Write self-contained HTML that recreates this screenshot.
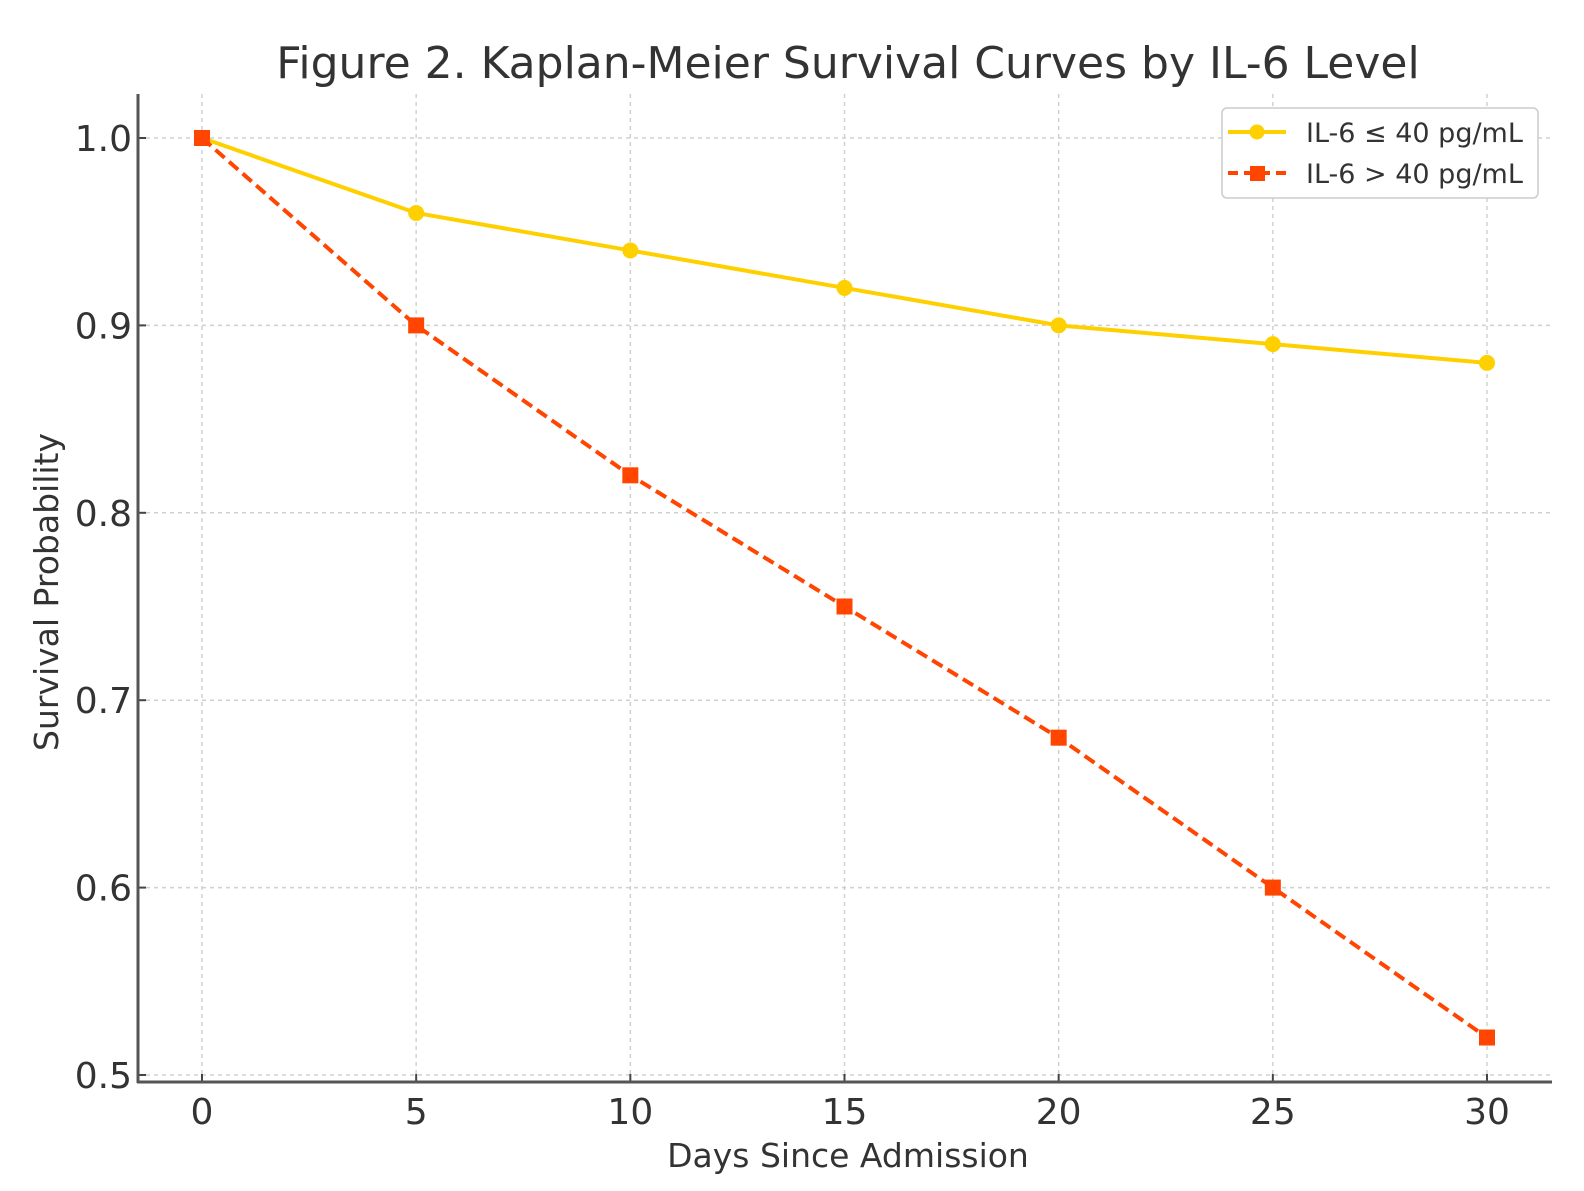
<!DOCTYPE html>
<html><head><meta charset="utf-8"><style>
html,body{margin:0;padding:0;background:#fff;}
svg{display:block;font-family:"DejaVu Sans","Liberation Sans",sans-serif;}
</style></head><body>
<svg id="chart" width="1584" height="1191" viewBox="0 0 1584 1191" xmlns="http://www.w3.org/2000/svg">
<text x="848" y="78" text-anchor="middle" font-size="44" fill="#333">Figure 2. Kaplan-Meier Survival Curves by IL-6 Level</text>
<g id="grid"></g>
<g id="axes"></g>
<g id="series"></g>
<text x="848" y="1167" text-anchor="middle" font-size="33" fill="#333">Days Since Admission</text>
<text transform="translate(58,592) rotate(-90)" text-anchor="middle" font-size="33" fill="#333">Survival Probability</text>
<g>
<rect x="1222" y="108" width="316" height="90" rx="5" fill="#fff" stroke="#ccc" stroke-width="1.5"/>
<g>
<line x1="1228" y1="132" x2="1286" y2="132" stroke="#FFD000" stroke-width="4"/>
<circle cx="1257" cy="132" r="7.5" fill="#FFD000"/>
<text x="1306" y="142" font-size="27" fill="#333">IL-6 ≤ 40 pg/mL</text>
</g>
<g>
<line x1="1228" y1="173" x2="1286" y2="173" stroke="#FF4500" stroke-width="4" stroke-dasharray="10,6"/>
<rect x="1250" y="166" width="15" height="15" fill="#FF4500"/>
<text x="1306" y="183" font-size="27" fill="#333">IL-6 &gt; 40 pg/mL</text>
</g>
</g>
</svg>
<script>
const days = [0, 5, 10, 15, 20, 25, 30];
const lowIL6 = [1.0, 0.96, 0.94, 0.92, 0.90, 0.89, 0.88];
const highIL6 = [1.0, 0.90, 0.82, 0.75, 0.68, 0.60, 0.52];
const xTicks = [0, 5, 10, 15, 20, 25, 30];
const yTicks = [0.5, 0.6, 0.7, 0.8, 0.9, 1.0];
const yTickLabels = ["0.5", "0.6", "0.7", "0.8", "0.9", "1.0"];

const NS = "http://www.w3.org/2000/svg";
const X0 = 202, X1 = 1487, Y0 = 1075, Y1 = 138;
function xs(v){ return X0 + (v - 0) / 30 * (X1 - X0); }
function ys(v){ return Y0 - (v - 0.5) / 0.5 * (Y0 - Y1); }
function mk(tag, attrs, parent){ const e = document.createElementNS(NS, tag); for (const k in attrs) e.setAttribute(k, attrs[k]); parent.appendChild(e); return e; }

const grid = document.getElementById('grid');
const axes = document.getElementById('axes');
const series = document.getElementById('series');
const L = 138, R = 1552, T = 94, B = 1082;

xTicks.forEach((t) => {
  const g = mk('line', {x1: xs(t), x2: xs(t), y1: T, y2: B, stroke: '#d0d0d0', 'stroke-width': 1.5, 'stroke-dasharray': '4,4'}, grid);
  
  
  mk('line', {x1: xs(t), x2: xs(t), y1: B, y2: B - 8, stroke: '#444', 'stroke-width': 2}, axes);
  const lab = mk('text', {x: xs(t), y: 1124, 'text-anchor': 'middle', 'font-size': 36, fill: '#333'}, axes);
  lab.textContent = t;
  
  
});
yTicks.forEach((t, i) => {
  const g = mk('line', {x1: L, x2: R, y1: ys(t), y2: ys(t), stroke: '#d0d0d0', 'stroke-width': 1.5, 'stroke-dasharray': '4,4'}, grid);
  
  
  mk('line', {x1: L, x2: L + 8, y1: ys(t), y2: ys(t), stroke: '#444', 'stroke-width': 2}, axes);
  const lab = mk('text', {x: 132, y: ys(t) + 13, 'text-anchor': 'end', 'font-size': 36, fill: '#333'}, axes);
  lab.textContent = yTickLabels[i];
  
  
});
const ls = mk('line', {x1: L, x2: L, y1: T, y2: B + 1, stroke: '#555', 'stroke-width': 3}, axes);


const bs = mk('line', {x1: L - 1, x2: R, y1: B, y2: B, stroke: '#555', 'stroke-width': 3}, axes);



const lowPts = days.map((d, i) => xs(d) + ',' + ys(lowIL6[i])).join(' ');
const highPts = days.map((d, i) => xs(d) + ',' + ys(highIL6[i])).join(' ');
const lowLine = mk('polyline', {points: lowPts, fill: 'none', stroke: '#FFD000', 'stroke-width': 4}, series);


const highLine = mk('polyline', {points: highPts, fill: 'none', stroke: '#FF4500', 'stroke-width': 4, 'stroke-dasharray': '12,6'}, series);


days.forEach((d, i) => {
  const c = mk('circle', {cx: xs(d), cy: ys(lowIL6[i]), r: 8, fill: '#FFD000'}, series);
  
  
});
days.forEach((d, i) => {
  const s = mk('rect', {x: xs(d) - 8, y: ys(highIL6[i]) - 8, width: 16, height: 16, fill: '#FF4500'}, series);
  
  
});
</script>
</body></html>
